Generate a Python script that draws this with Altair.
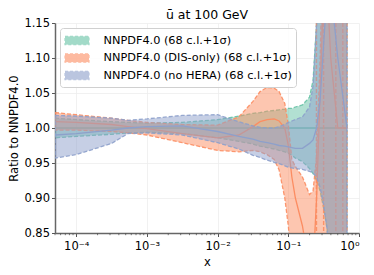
import altair as alt
import pandas as pd

# log10(x) sample positions
lx = [-4.3, -4.0, -3.5, -3.27, -3.0, -2.5, -2.0, -1.7, -1.5, -1.4, -1.3, -1.2, -1.13,
      -1.05, -1.0, -0.95, -0.9, -0.8, -0.7, -0.65, -0.6, -0.55, -0.5, -0.45, -0.4, -0.3, -0.17]

green_up = [1.014, 1.012, 1.009, 1.008, 1.007, 1.008, 1.012, 1.017, 1.021, 1.022, 1.024, 1.025, 1.026,
            1.027, 1.028, 1.028, 1.030, 1.033, 1.044, 1.068, 1.15, 1.3, 1.3, 1.3, 1.3, 1.3, 1.3]
green_lo = [0.986, 0.988, 0.991, 0.993, 0.994, 0.992, 0.986, 0.981, 0.977, 0.974, 0.972, 0.970, 0.968,
            0.966, 0.964, 0.961, 0.957, 0.952, 0.942, 0.935, 0.925, 0.91, 0.885, 0.855, 0.7, 0.7, 0.7]
green_c = [1.0] * 27

orange_up = [1.022, 1.019, 1.014, 1.011, 1.008, 1.005, 1.004, 1.016, 1.038, 1.052, 1.058, 1.057, 1.052,
             1.035, 1.005, 0.955, 0.945, 0.93, 0.905, 0.91, 0.96, 1.1, 1.3, 1.3, 1.3, 1.3, 1.3]
orange_lo = [0.997, 0.997, 0.995, 0.993, 0.99, 0.979, 0.968, 0.966, 0.968, 0.966, 0.962, 0.955, 0.94,
             0.9, 0.86, 0.8, 0.7, 0.7, 0.7, 0.7, 0.7, 0.7, 0.7, 0.7, 0.7, 0.7, 0.7]
orange_c = [1.009, 1.008, 1.005, 1.002, 0.999, 0.992, 0.986, 0.99, 1.002, 1.009, 1.012, 1.013, 1.01,
            1.0, 0.975, 0.93, 0.9, 0.86, 0.8, 0.8, 0.9, 1.05, 1.2, 1.2, 1.1, 1.0, 1.0]

blue_up = [1.018, 1.017, 1.014, 1.011, 1.013, 1.018, 1.019, 1.009, 1.003, 1.001, 1.0, 1.0, 1.002,
           1.005, 1.008, 1.010, 1.012, 1.016, 1.03, 1.06, 1.15, 1.3, 1.3, 1.3, 1.3, 1.3, 1.3]
blue_lo = [0.957, 0.962, 0.978, 0.992, 0.993, 0.99, 0.979, 0.97, 0.961, 0.958, 0.954, 0.951, 0.949,
           0.946, 0.944, 0.943, 0.942, 0.941, 0.938, 0.936, 0.93, 0.915, 0.89, 0.855, 0.7, 0.7, 0.7]
blue_c = [0.99, 0.992, 0.997, 1.0, 1.002, 1.003, 0.995, 0.988, 0.984, 0.981, 0.979, 0.977, 0.975,
          0.974, 0.973, 0.972, 0.971, 0.971, 0.978, 0.983, 1.0, 1.04, 1.12, 1.2, 1.2, 1.1, 1.0]

# near-vertical DIS-only replica edges at large x
orange_edges_x = [0.25, 0.316, 0.47, 0.59]

labels = ["NNPDF4.0 (68 c.l.+1σ)", "NNPDF4.0 (DIS-only) (68 c.l.+1σ)", "NNPDF4.0 (no HERA) (68 c.l.+1σ)"]
colors = ["#66c2a5", "#fc8d62", "#8da0cb"]
y_ticks = [0.85, 0.90, 0.95, 1.00, 1.05, 1.10, 1.15]
x_ticks = [1e-4, 1e-3, 1e-2, 1e-1, 1.0]

minor_ticks = [m * 10.0 ** e for e in range(-5, 0) for m in range(2, 10)]
minor_ticks = [v for v in minor_ticks if 5e-5 <= v <= 1]

x_vals = [10 ** v for v in lx]
rows = []
for lab, up, lo, c in zip(labels, [green_up, orange_up, blue_up], [green_lo, orange_lo, blue_lo],
                          [green_c, orange_c, blue_c]):
    for i, xv in enumerate(x_vals):
        rows.append({"x": xv, "up": up[i], "lo": lo[i], "c": c[i], "series": lab})
df = pd.DataFrame(rows)

xscale = alt.Scale(type="log", domain=[5e-5, 1.0], nice=False)
yscale = alt.Scale(domain=[0.85, 1.15], nice=False, zero=False)
cscale = alt.Scale(domain=labels, range=colors)

sup = "{'-5':'⁻⁵','-4':'⁻⁴','-3':'⁻³','-2':'⁻²','-1':'⁻¹','0':'⁰'}"
xaxis = alt.Axis(values=x_ticks,
                 labelExpr="'10' + " + sup + "['' + round(log(datum.value)/LN10)]",
                 title="x", tickSize=3.5, labelFontSize=11.5, titleFontSize=11.5,
                 titleFontWeight="normal", labelPadding=4, titlePadding=4, labelOverlap=False)
yaxis = alt.Axis(values=y_ticks, format=".2f",
                 title="Ratio to NNPDF4.0", tickSize=3.5, labelFontSize=11.5, titleFontSize=11.5,
                 titleFontWeight="normal", labelPadding=2, labelOverlap=False, titlePadding=4)

layers = []
for k, lab in enumerate(labels):
    sub = df[df.series == lab]
    leg = alt.Legend(title=None, orient="none", legendX=5, legendY=5) if k == 0 else None
    area = alt.Chart(sub).mark_area(clip=True, fillOpacity=0.5, strokeDash=[4, 2], strokeWidth=1.3,
                                    strokeOpacity=0.9).encode(
        x=alt.X("x:Q", scale=xscale, axis=xaxis),
        y=alt.Y("up:Q", scale=yscale, axis=yaxis),
        y2="lo:Q",
        fill=alt.Fill("series:N", scale=cscale, sort=labels, legend=leg),
        stroke=alt.Stroke("series:N", scale=cscale, sort=labels, legend=leg),
    )
    line = alt.Chart(sub).mark_line(clip=True, strokeWidth=1.3).encode(
        x=alt.X("x:Q", scale=xscale, axis=xaxis),
        y=alt.Y("c:Q", scale=yscale, axis=yaxis),
        color=alt.value(colors[k]))
    layers += [area, line]
    if k == 1:
        edges = alt.Chart(pd.DataFrame({"e": orange_edges_x})).mark_rule(
            color=colors[1], strokeDash=[4, 2], strokeWidth=1.4, opacity=0.9).encode(
            x=alt.X("e:Q", scale=xscale, axis=xaxis))
        layers.append(edges)

minor = alt.Chart(pd.DataFrame({"m": minor_ticks})).mark_rule(color="#555", strokeWidth=0.8).encode(
    x=alt.X("m:Q", scale=xscale, axis=xaxis), y=alt.value(210), y2=alt.value(212.2))

chart = alt.layer(*layers, minor).properties(
    width=304, height=210,
    title=alt.TitleParams("ū at 100 GeV", fontSize=12.5, fontWeight="normal", font="DejaVu Sans", offset=-4),
    padding={"left": 0, "top": 0, "right": 5, "bottom": 0},
).configure_view(strokeWidth=0).configure_axis(
    labelFont="DejaVu Sans", titleFont="DejaVu Sans", labelColor="#000", titleColor="#000",
    domainColor="#666", domainWidth=1.5, tickColor="#555", gridColor="#eeeeee", gridWidth=0.8,
    labelOverlap=False,
).configure_legend(
    labelFont="DejaVu Sans", labelFontSize=11.3, labelLimit=300,
    symbolType="M-1.6,-0.55L1.6,-0.55L1.6,0.55L-1.6,0.55Z", symbolSize=225, symbolDash=[3, 2],
    symbolStrokeWidth=1.2, symbolOpacity=0.6, fillColor="rgba(255,255,255,0.85)",
    strokeColor="#d0d0d0", cornerRadius=3, padding=4, rowPadding=1.5, labelOffset=18,
    symbolOffset=4.5,
)

chart.save("out.html", embed_options={"renderer": "svg", "actions": False})
